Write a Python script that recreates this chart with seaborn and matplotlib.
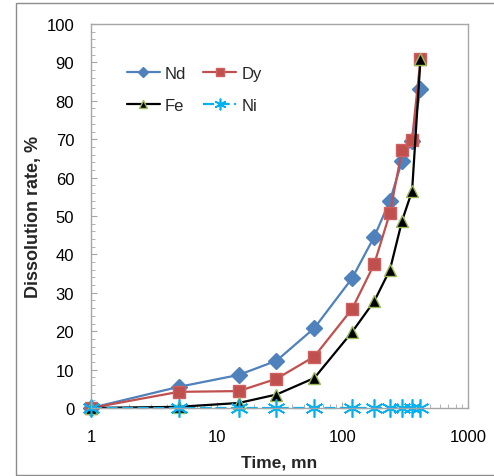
import matplotlib
matplotlib.use('Agg')
import matplotlib.pyplot as plt
import matplotlib.patches as patches
from matplotlib.ticker import MultipleLocator, FixedLocator, LogLocator, NullFormatter
import seaborn as sns

# Data
time_mn = [1, 5, 15, 30, 60, 120, 180, 240, 300, 360, 420]
nd = [0, 5.5, 8.6, 12.3, 20.8, 33.8, 44.6, 54.0, 64.4, 69.5, 83.2]
dy = [0, 4.2, 4.4, 7.6, 13.4, 25.8, 37.5, 50.8, 67.3, 69.9, 90.8]
fe = [0, 0.3, 1.3, 3.5, 7.8, 19.8, 27.8, 36.0, 48.8, 56.5, 90.8]
ni = [0, 0, 0, 0, 0, 0, 0, 0, 0, 0, 0]

sns.set_style('white')
plt.rcParams['font.family'] = ['Liberation Sans', 'DejaVu Sans']

fig = plt.figure(figsize=(4.94, 4.77), dpi=100)
ax = fig.add_axes([0.184, 0.1426, 0.763, 0.805])

# outer chart border
fig.patches.append(patches.Rectangle((16 / 494, 1 / 477), 1.0, 472 / 477, transform=fig.transFigure,
                                     fill=False, edgecolor='#8c8c8c', linewidth=1.0))

series = [
    ('Nd', nd, '#4F81BD', 'D', 8, '#4F81BD', 1.0, '-'),
    ('Dy', dy, '#C0504D', 's', 9, '#D06060', 1.0, '-'),
    ('Fe', fe, 'black', '^', 8, '#9BBB59', 1.0, '-'),
    ('Ni', ni, '#00B0F0', (6, 2, 0), 13, '#00B0F0', 1.2, (0, (5, 2))),
]
for name, vals, color, marker, ms, mec, mew, ls in series:
    sns.lineplot(x=time_mn, y=vals, ax=ax, color=color, linewidth=1.6, linestyle=ls,
                 marker=marker, markersize=ms, markeredgecolor=mec, markeredgewidth=mew,
                 markerfacecolor=color, label=name, clip_on=False)

ax.set_xscale('log')
ax.set_xlim(1, 1000)
ax.set_ylim(0, 100)
ax.xaxis.set_major_locator(FixedLocator([1, 10, 100, 1000]))
ax.set_xticklabels(['1', '10', '100', '1000'])
ax.xaxis.set_minor_locator(LogLocator(base=10, subs=range(2, 10)))
ax.xaxis.set_minor_formatter(NullFormatter())
ax.yaxis.set_major_locator(MultipleLocator(10))
ax.yaxis.set_minor_locator(MultipleLocator(2))

for s in ax.spines.values():
    s.set_color('#a6a6a6')
    s.set_linewidth(1.0)
ax.tick_params(axis='both', which='both', direction='in', color='#a6a6a6', labelsize=12,
               labelcolor='black', bottom=True, left=True)
ax.tick_params(axis='both', which='major', length=4)
ax.tick_params(axis='x', which='major', pad=15)
ax.tick_params(axis='y', which='major', pad=12)
ax.tick_params(axis='both', which='minor', length=3)

ax.set_xlabel('Time, mn', fontsize=12.5, fontweight='bold', labelpad=8)
ax.set_ylabel('Dissolution rate, %', fontsize=13, fontweight='bold', labelpad=3)

# legend fills by column, so reorder to get rows Nd/Dy and Fe/Ni
handles, labels = ax.get_legend_handles_labels()
order = [0, 2, 1, 3]
ax.legend([handles[i] for i in order], [labels[i] for i in order],
          loc='upper left', bbox_to_anchor=(0.055, 0.93), ncol=2, frameon=False, fontsize=12,
          handlelength=2.0, handletextpad=0.3, columnspacing=1.0, labelspacing=1.0,
          markerscale=0.65)

fig.savefig('out.png', dpi=100)
